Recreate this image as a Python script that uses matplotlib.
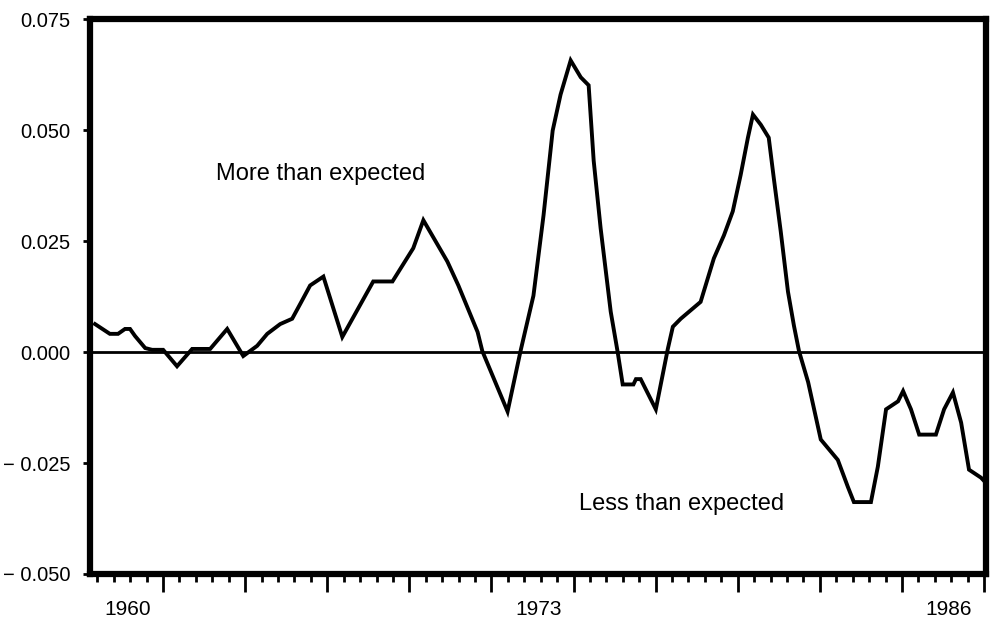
import numpy as np
import matplotlib.pyplot as plt

plt.rcParams['font.family'] = ['Liberation Sans', 'DejaVu Sans']

# decimal years and deviation values
years = [1959.45, 1959.92, 1960.18, 1960.40, 1960.56, 1960.72, 1961.04, 1961.26,
         1961.61, 1962.05, 1962.53, 1963.10, 1963.64, 1964.15, 1964.59, 1964.91,
         1965.32, 1965.70, 1965.96, 1966.27, 1966.69, 1967.29, 1968.27, 1968.88,
         1969.54, 1969.86, 1970.62, 1970.97, 1971.58, 1971.73, 1972.53, 1972.94,
         1973.35, 1973.67, 1973.96, 1974.21, 1974.53, 1974.85, 1975.10, 1975.26,
         1975.48, 1975.80, 1976.02, 1976.18, 1976.52, 1976.60, 1976.75, 1977.23,
         1977.61, 1977.77, 1978.02, 1978.65, 1979.07, 1979.39, 1979.67, 1979.92,
         1980.15, 1980.31, 1980.56, 1980.81, 1980.97, 1981.19, 1981.42, 1981.61,
         1981.77, 1982.06, 1982.46, 1983.00, 1983.32, 1983.51, 1984.05, 1984.27,
         1984.53, 1984.91, 1985.07, 1985.32, 1985.58, 1986.11, 1986.37, 1986.65,
         1986.91, 1987.16, 1987.54, 1987.70]
values = [0.0063, 0.0041, 0.0041, 0.0052, 0.0052, 0.0036, 0.0009, 0.0005,
          0.0005, -0.0032, 0.0007, 0.0007, 0.0052, -0.0009, 0.0014, 0.0041,
          0.0063, 0.0075, 0.0109, 0.0150, 0.0170, 0.0034, 0.0159, 0.0159,
          0.0234, 0.0297, 0.0204, 0.0150, 0.0045, 0.0002, -0.0134, 0.0002,
          0.0127, 0.0308, 0.0499, 0.0580, 0.0657, 0.0619, 0.0601, 0.0431,
          0.0279, 0.0091, 0.0000, -0.0073, -0.0073, -0.0061, -0.0061, -0.0129,
          0.0007, 0.0057, 0.0075, 0.0113, 0.0211, 0.0263, 0.0317, 0.0399,
          0.0483, 0.0535, 0.0512, 0.0483, 0.0392, 0.0272, 0.0136, 0.0059,
          0.0002, -0.0068, -0.0197, -0.0243, -0.0304, -0.0338, -0.0338, -0.0258,
          -0.0129, -0.0111, -0.0088, -0.0129, -0.0186, -0.0186, -0.0129, -0.0091,
          -0.0159, -0.0265, -0.0283, -0.0295]

year_labels = ['1960', '1973', '1986']
year_label_pos = [1960.5, 1973.5, 1986.5]
ytick_vals = [0.075, 0.050, 0.025, 0.0, -0.025, -0.050]
ytick_text = ['0.075', '0.050', '0.025', '0.000', '\u2212 0.025', '\u2212 0.050']

fig = plt.figure(figsize=(9.91, 6.21), dpi=100)
ax = fig.add_axes([0.0908, 0.0757, 0.9042, 0.8935])

ax.plot(years, values, color='black', lw=2.8, solid_joinstyle='miter')
ax.axhline(0, color='black', lw=2)

ax.set_xlim(1959.29, 1987.70)
ax.set_ylim(-0.05, 0.075)

for s in ax.spines.values():
    s.set_linewidth(4.5)

ax.set_yticks(ytick_vals)
ax.set_yticklabels(ytick_text, fontsize=14.5)
ax.tick_params(axis='y', length=5, width=2, pad=9)

# x ticks: long marks every 2.6 yr, short ones every 0.52 yr
major = 1961.607 + 2.603 * np.arange(0, 11)
minor = 1961.607 + 0.5206 * np.arange(-4, 51)
minor = minor[(minor > 1959.4) & (minor < 1987.6)]
ax.set_xticks(major)
ax.set_xticklabels([])
ax.set_xticks(minor, minor=True)
ax.tick_params(axis='x', which='major', length=13, width=2)
ax.tick_params(axis='x', which='minor', length=6, width=2)

for lab, xp in zip(year_labels, year_label_pos):
    ax.text(xp, -0.058, lab, ha='center', va='center', fontsize=15)

ax.text(1963.3, 0.0400, 'More than expected', fontsize=17, va='center')
ax.text(1974.8, -0.0342, 'Less than expected', fontsize=17, va='center')

fig.savefig('out.png', dpi=100)
